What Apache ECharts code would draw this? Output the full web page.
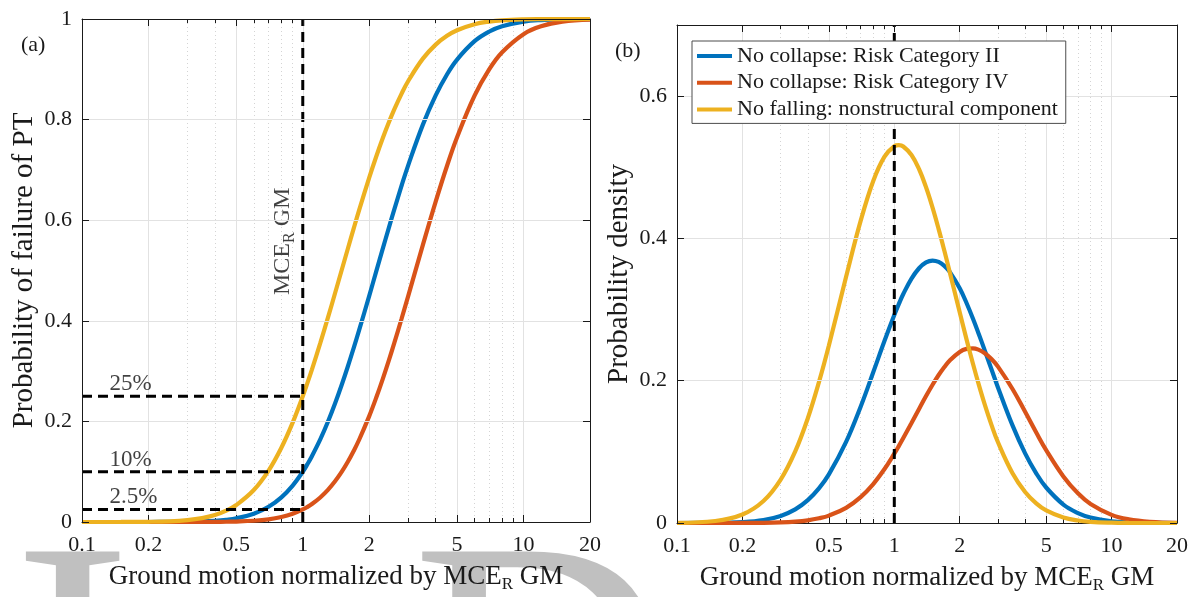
<!DOCTYPE html>
<html>
<head>
<meta charset="utf-8">
<script src="https://cdn.jsdelivr.net/npm/echarts@6/dist/echarts.min.js"></script>
<style>
html,body{margin:0;padding:0;background:#ffffff;}
#c{width:1192px;height:597px;}
</style>
</head>
<body>
<div id="c"></div>
<script>
// ---------------- data ----------------
const xGM = [0.1, 0.15, 0.2, 0.25, 0.3, 0.35, 0.4, 0.45, 0.5, 0.6, 0.7, 0.8, 0.9, 1, 1.05, 1.1, 1.2, 1.3, 1.4, 1.5, 1.6, 1.7, 1.8, 2, 2.15, 2.3, 2.45, 2.6, 2.8, 3, 3.5, 4, 4.5, 5, 6, 7, 8, 10, 12, 15, 20];

const cdfRiskII = [0, 0, 0.00004, 0.00016, 0.0005, 0.0012, 0.0025, 0.0045, 0.0074, 0.0165, 0.0303, 0.0491, 0.0725, 0.1000, 0.1150, 0.1308, 0.1641, 0.1992, 0.2355, 0.2723, 0.3091, 0.3456, 0.3813, 0.4497, 0.4977, 0.5424, 0.5839, 0.6220, 0.6680, 0.7086, 0.7900, 0.8482, 0.8897, 0.9193, 0.9559, 0.9751, 0.9855, 0.9947, 0.9979, 0.9994, 0.9999];
const cdfRiskIV = [0, 0, 0, 0.00001, 0.00004, 0.0001, 0.0002, 0.0005, 0.0009, 0.0025, 0.0053, 0.0099, 0.0164, 0.0250, 0.0301, 0.0358, 0.0488, 0.0639, 0.0809, 0.0995, 0.1197, 0.1411, 0.1635, 0.2105, 0.2469, 0.2837, 0.3204, 0.3566, 0.4036, 0.4487, 0.5509, 0.6370, 0.7078, 0.7650, 0.8476, 0.9003, 0.9339, 0.9698, 0.9854, 0.9947, 0.9988];
const cdfNonstruct = [0, 0.0001, 0.0004, 0.0014, 0.0037, 0.0077, 0.0138, 0.0225, 0.0337, 0.0635, 0.1022, 0.1477, 0.1976, 0.2500, 0.2765, 0.3030, 0.3554, 0.4062, 0.4547, 0.5005, 0.5433, 0.5831, 0.6199, 0.6846, 0.7262, 0.7623, 0.7936, 0.8207, 0.8512, 0.8763, 0.9212, 0.9491, 0.9665, 0.9777, 0.9896, 0.9949, 0.9974, 0.9992, 0.9997, 0.9999, 1.0000];

const pdfRiskII = [0, 0.0002, 0.0013, 0.0042, 0.0100, 0.0192, 0.0322, 0.0487, 0.0683, 0.1139, 0.1634, 0.2119, 0.2555, 0.2924, 0.3081, 0.3218, 0.3435, 0.3581, 0.3663, 0.3689, 0.3670, 0.3614, 0.3529, 0.3298, 0.3092, 0.2875, 0.2654, 0.2437, 0.2161, 0.1906, 0.1372, 0.0979, 0.0698, 0.0499, 0.0259, 0.0139, 0.0077, 0.0025, 0.0009, 0.0002, 0.0000];
const pdfRiskIV = [0, 0, 0.0001, 0.0003, 0.0009, 0.0020, 0.0038, 0.0066, 0.0104, 0.0213, 0.0364, 0.0548, 0.0755, 0.0974, 0.1084, 0.1194, 0.1406, 0.1604, 0.1784, 0.1943, 0.2080, 0.2193, 0.2285, 0.2405, 0.2447, 0.2455, 0.2434, 0.2390, 0.2305, 0.2198, 0.1884, 0.1563, 0.1272, 0.1024, 0.0654, 0.0417, 0.0268, 0.0114, 0.0051, 0.0017, 0.0003];
const pdfNonstruct = [0.0003, 0.0028, 0.0119, 0.0309, 0.0610, 0.1006, 0.1473, 0.1979, 0.2494, 0.3460, 0.4246, 0.4808, 0.5147, 0.5296, 0.5311, 0.5292, 0.5173, 0.4973, 0.4719, 0.4433, 0.4131, 0.3826, 0.3526, 0.2962, 0.2581, 0.2241, 0.1941, 0.1678, 0.1380, 0.1135, 0.0700, 0.0436, 0.0276, 0.0177, 0.0077, 0.0035, 0.0017, 0.0005, 0.0001, 0.0000, 0.0000];

const seriesNames = ['No collapse: Risk Category II', 'No collapse: Risk Category IV', 'No falling: nonstructural component'];

const xMajorTicks = [0.1, 0.2, 0.5, 1, 2, 5, 10, 20];
const xMinorTicks = [0.3, 0.4, 0.6, 0.7, 0.8, 0.9, 3, 4, 6, 7, 8, 9];

const mceLevel = 1;                       // MCE_R ground motion (normalized)
const refLevels = [0.25, 0.10, 0.025];    // target failure probabilities at MCE_R
const refLabels = ['25%', '10%', '2.5%'];
const pctLabelX = 0.134;                  // where the % labels start (data units)
const mceLabelPos = [0.812, 0.557];       // rotated "MCE_R GM" label (data units)

// ---------------- style ----------------
const FONT = 'Liberation Serif';
const TXT = '#1a1a1a';
const COLORS = ['#0072BD', '#D95319', '#EDB120'];
const GRID_MAJOR = '#e2e2e2';
const GRID_MINOR = '#d4d4d4';

const xTitle = '{m|Ground motion normalized by MCE}{s|R}{m| GM}';
const titleRich = {
  m: {fontFamily: FONT, fontSize: 27, color: TXT},
  s: {fontFamily: FONT, fontSize: 17, color: TXT, padding: [16, 0, 0, 0]}
};

function xAxes(gi) {
  const base = {type: 'log', logBase: 10, min: 0.1, max: 20, gridIndex: gi};
  const line = {show: true, lineStyle: {color: TXT, width: 1}};
  return [
    Object.assign({}, base, {
      position: 'bottom', axisLine: line,
      axisTick: {show: true, inside: true, length: 7, customValues: xMajorTicks, lineStyle: {color: TXT, width: 1}},
      axisLabel: {show: true, customValues: xMajorTicks, margin: 12, fontFamily: FONT, fontSize: 22, color: TXT,
        formatter: v => String(Math.round(v * 1000) / 1000)},
      splitLine: {show: true, showMinLine: false, showMaxLine: false, lineStyle: {color: GRID_MAJOR, width: 1}},
      name: xTitle, nameLocation: 'middle', nameGap: 38,
      nameTextStyle: {fontFamily: FONT, fontSize: 27, color: TXT, rich: titleRich}
    }),
    Object.assign({}, base, {
      position: 'bottom', axisLine: {show: false},
      axisTick: {show: true, inside: true, length: 4, customValues: xMinorTicks, lineStyle: {color: TXT, width: 1}},
      axisLabel: {show: false},
      splitLine: {show: true, lineStyle: {color: GRID_MINOR, width: 1, type: [1, 3]}}
    }),
    Object.assign({}, base, {
      position: 'top', axisLine: line, z: 5,
      axisTick: {show: true, inside: true, length: 7, customValues: xMajorTicks, lineStyle: {color: TXT, width: 1}},
      axisLabel: {show: false}, splitLine: {show: false}
    }),
    Object.assign({}, base, {
      position: 'top', axisLine: {show: false}, z: 5,
      axisTick: {show: true, inside: true, length: 4, customValues: xMinorTicks, lineStyle: {color: TXT, width: 1}},
      axisLabel: {show: false}, splitLine: {show: false}
    })
  ];
}

function yAxes(gi, max, nameText, showMax) {
  const base = {type: 'value', gridIndex: gi, min: 0, max: max, interval: 0.2};
  const line = {show: true, lineStyle: {color: TXT, width: 1}};
  return [
    Object.assign({}, base, {
      position: 'left', axisLine: line, z: 5,
      axisTick: {show: true, inside: true, length: 7, lineStyle: {color: TXT, width: 1}},
      axisLabel: {show: true, margin: 10, fontFamily: FONT, fontSize: 22, color: TXT, showMaxLabel: showMax},
      splitLine: {show: true, showMinLine: false, showMaxLine: false, lineStyle: {color: GRID_MAJOR, width: 1}},
      name: nameText, nameLocation: 'middle', nameGap: 43,
      nameTextStyle: {fontFamily: FONT, fontSize: 29, color: TXT}
    }),
    Object.assign({}, base, {
      position: 'right', axisLine: line, z: 5,
      axisTick: {show: true, inside: true, length: 7, lineStyle: {color: TXT, width: 1}},
      axisLabel: {show: false}, splitLine: {show: false}
    })
  ];
}

function pairs(xs, ys) { return xs.map((x, i) => [x, ys[i]]); }

function curve(name, color, xi, yi, ys) {
  return {
    name: name, type: 'line', xAxisIndex: xi, yAxisIndex: yi,
    data: pairs(xGM, ys), showSymbol: false, symbol: 'none', smooth: 0.4,
    lineStyle: {color: color, width: 4.2}, itemStyle: {color: color},
    silent: true, animation: false, z: 2
  };
}

function dashed(xi, yi, pts) {
  return {
    type: 'line', xAxisIndex: xi, yAxisIndex: yi, data: pts,
    showSymbol: false, symbol: 'none', silent: true, animation: false,
    lineStyle: {color: '#000', width: 3, type: [10, 6]}, z: 3
  };
}

const series = [
  curve(seriesNames[0], COLORS[0], 0, 0, cdfRiskII),
  curve(seriesNames[1], COLORS[1], 0, 0, cdfRiskIV),
  curve(seriesNames[2], COLORS[2], 0, 0, cdfNonstruct),
  dashed(0, 0, [[mceLevel, 0], [mceLevel, 1]])
];
refLevels.forEach(v => series.push(dashed(0, 0, [[0.1, v], [mceLevel, v]])));
series.push({
  type: 'scatter', xAxisIndex: 0, yAxisIndex: 0, silent: true, animation: false, z: 4,
  data: refLevels.map(v => [pctLabelX, v]), symbolSize: 1, itemStyle: {color: 'rgba(0,0,0,0)'},
  label: {show: true, position: [0, 0], align: 'left', verticalAlign: 'bottom',
    fontFamily: FONT, fontSize: 23, color: '#111', textBorderWidth: 0, formatter: p => refLabels[p.dataIndex]}
});
series.push({
  type: 'scatter', xAxisIndex: 0, yAxisIndex: 0, silent: true, animation: false, z: 4,
  data: [mceLabelPos], symbolSize: 1, itemStyle: {color: 'rgba(0,0,0,0)'},
  label: {show: true, position: [0, 0], align: 'center', verticalAlign: 'middle', rotate: 90, textBorderWidth: 0,
    formatter: '{m|MCE}{s|R}{m| GM}',
    rich: {m: {fontFamily: FONT, fontSize: 24, color: '#111'}, s: {fontFamily: FONT, fontSize: 16, color: '#111', padding: [14, 0, 0, 0]}}}
});
series.push(curve(seriesNames[0], COLORS[0], 4, 2, pdfRiskII));
series.push(curve(seriesNames[1], COLORS[1], 4, 2, pdfRiskIV));
series.push(curve(seriesNames[2], COLORS[2], 4, 2, pdfNonstruct));
series.push(dashed(4, 2, [[mceLevel, 0], [mceLevel, 0.7]]));

const option = {
  animation: false,
  backgroundColor: '#ffffff',
  color: COLORS,
  title: [
    {text: '(a)', left: 16, top: 29, textStyle: {fontFamily: FONT, fontSize: 22, fontWeight: 'normal', color: TXT}},
    {text: '(b)', left: 610, top: 35, textStyle: {fontFamily: FONT, fontSize: 22, fontWeight: 'normal', color: TXT}}
  ],
  grid: [
    {left: 82, right: 602, top: 19, bottom: 75, containLabel: false, outerBoundsMode: 'none'},
    {left: 677, right: 15, top: 25, bottom: 74, containLabel: false, outerBoundsMode: 'none'}
  ],
  xAxis: xAxes(0).concat(xAxes(1)),
  yAxis: yAxes(0, 1, 'Probability of failure of PT', true).concat(yAxes(1, 0.7, 'Probability density', false)),
  legend: {
    show: true, orient: 'vertical', left: 692, top: 41, z: 10,
    data: seriesNames, icon: 'rect', itemWidth: 35, itemHeight: 4, itemGap: 4.7,
    padding: [4, 8, 3, 5], backgroundColor: '#ffffff', borderColor: '#4d4d4d', borderWidth: 1, borderRadius: 0,
    selectedMode: false,
    textStyle: {fontFamily: FONT, fontSize: 22, color: TXT, lineHeight: 22}
  },
  graphic: [
    {type: 'text', x: 13, y: 513, z: -10, silent: true,
      style: {text: 'I', font: '357px "Liberation Serif"', fill: '#c0c0c0', align: 'left', verticalAlign: 'top'}},
    {type: 'text', x: 412, y: 513, z: -10, silent: true,
      style: {text: 'D', font: '357px "Liberation Serif"', fill: '#c0c0c0', align: 'left', verticalAlign: 'top'}}
  ],
  series: series
};

const chart = echarts.init(document.getElementById('c'), null, {renderer: 'canvas'});
chart.setOption(option);
</script>
</body>
</html>
